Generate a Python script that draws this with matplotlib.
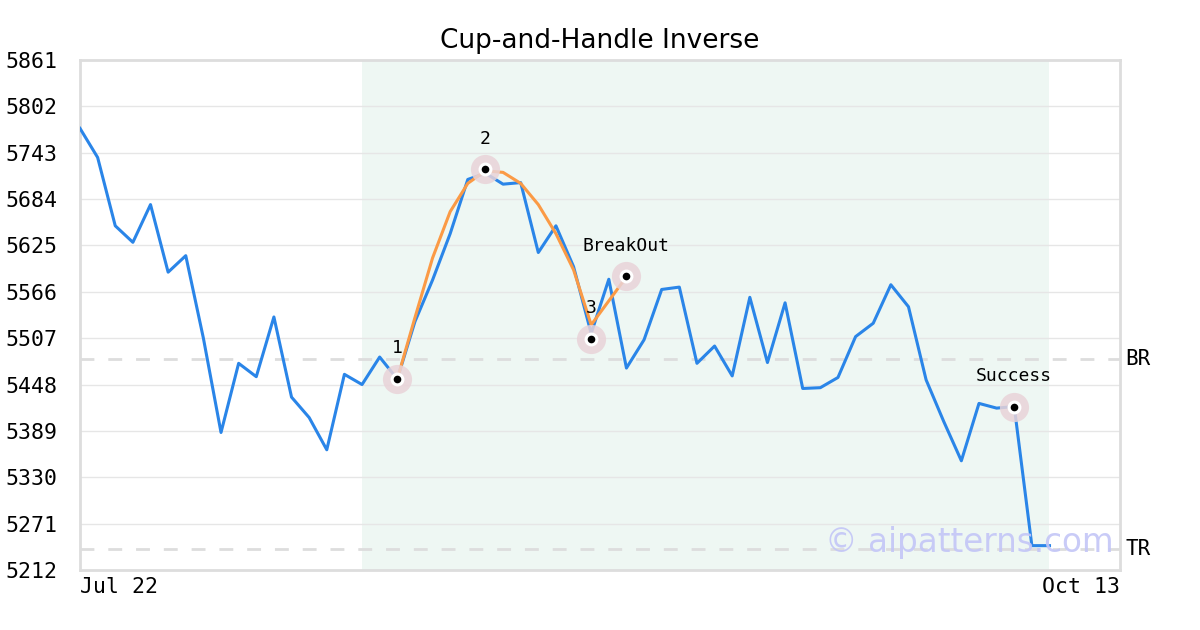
import matplotlib
matplotlib.use("Agg")
import matplotlib.pyplot as plt
import numpy as np

# prices, one per trading day (index 0 = Jul 22)
close = [
    5774, 5737, 5650, 5629, 5677, 5591, 5612, 5507, 5387, 5475,
    5458, 5534, 5432, 5406, 5365, 5461, 5448, 5483, 5455, 5528,
    5581, 5640, 5709, 5717, 5703, 5705, 5616, 5650, 5598, 5513,
    5582, 5469, 5505, 5569, 5572, 5475, 5497, 5459, 5559, 5476,
    5552, 5443, 5444, 5457, 5509, 5526, 5575, 5547, 5454, 5401,
    5351, 5424, 5418, 5420, 5243, 5243,
]

# fitted cup curve + handle
cup_idx = [18, 19, 20, 21, 22, 23, 24, 25, 26, 27, 28, 29, 31]
cup_val = [5455, 5533, 5609, 5668, 5704, 5720, 5718, 5704, 5677, 5640, 5594, 5524, 5585]

# key points
pt_idx = [18, 23, 29, 31, 53]
pt_val = [5455, 5722, 5506, 5586, 5420]
pt_lbl = ["1", "2", "3", "BreakOut", "Success"]

BR = 5480.5
TR = 5239
y_ticks = [5212, 5271, 5330, 5389, 5448, 5507, 5566, 5625, 5684, 5743, 5802, 5861]
x_labels = ["Jul 22", "Oct 13"]
span = (16, 55)
n_slots = 59

MONO = "DejaVu Sans Mono"

fig = plt.figure(figsize=(12, 6.3), dpi=100)
ax = fig.add_axes([80 / 1200, 60 / 630, 1040 / 1200, 510 / 630])

x = np.arange(len(close))
ax.axvspan(span[0], span[1], color="#eef7f3", zorder=0, lw=0)

for v in y_ticks:
    ax.axhline(v, color="#e6e6e6", lw=1, zorder=1)

ax.axhline(BR, color="#dddddd", lw=2, ls=(0, (5, 5)), zorder=2)
ax.axhline(TR, color="#dddddd", lw=2, ls=(0, (5, 5)), zorder=2)

ax.plot(x, close, color="#2a85e8", lw=2.2, zorder=3)
ax.plot(cup_idx, cup_val, color="#fb9a45", lw=2.2, zorder=4)

# markers: pink halo, white ring, black dot
ax.plot(pt_idx, pt_val, "o", ms=21, color="#e9d3d8", alpha=0.85, mew=0, zorder=5)
ax.plot(pt_idx, pt_val, "o", ms=10, color="white", mew=0, zorder=6)
ax.plot(pt_idx, pt_val, "o", ms=5.5, color="black", mew=0, zorder=7)

for xi, yi, s in zip(pt_idx, pt_val, pt_lbl):
    ax.annotate(s, (xi, yi), xytext=(0, 22), textcoords="offset points",
                ha="center", va="center", fontsize=13, family=MONO, zorder=8)

ax.text(1.005, BR, "BR", transform=ax.get_yaxis_transform(), ha="left",
        va="center", fontsize=15, family=MONO, clip_on=False)
ax.text(1.005, TR, "TR", transform=ax.get_yaxis_transform(), ha="left",
        va="center", fontsize=15, family=MONO, clip_on=False)

ax.text(0.9935, 0.054, "© aipatterns.com", transform=ax.transAxes, ha="right",
        va="center", fontsize=23.5, color="#c3c6f7", alpha=0.9, zorder=9)

ax.set_xlim(0, n_slots)
ax.set_ylim(y_ticks[0], y_ticks[-1])
ax.set_yticks(y_ticks)
ax.set_yticklabels([str(v) for v in y_ticks], family=MONO, fontsize=15.5)
ax.set_xticks([0, n_slots])
ax.set_xticklabels(x_labels, family=MONO, fontsize=15.5)
ax.get_xticklabels()[0].set_ha("left")
ax.get_xticklabels()[1].set_ha("right")
ax.tick_params(axis="y", length=0, pad=16.5)
ax.tick_params(axis="x", length=0, pad=5)

for sp in ax.spines.values():
    sp.set_color("#dddddd")
    sp.set_linewidth(2)

ax.set_title("Cup-and-Handle Inverse", fontsize=19, pad=9)

fig.savefig("out.png", dpi=100)
